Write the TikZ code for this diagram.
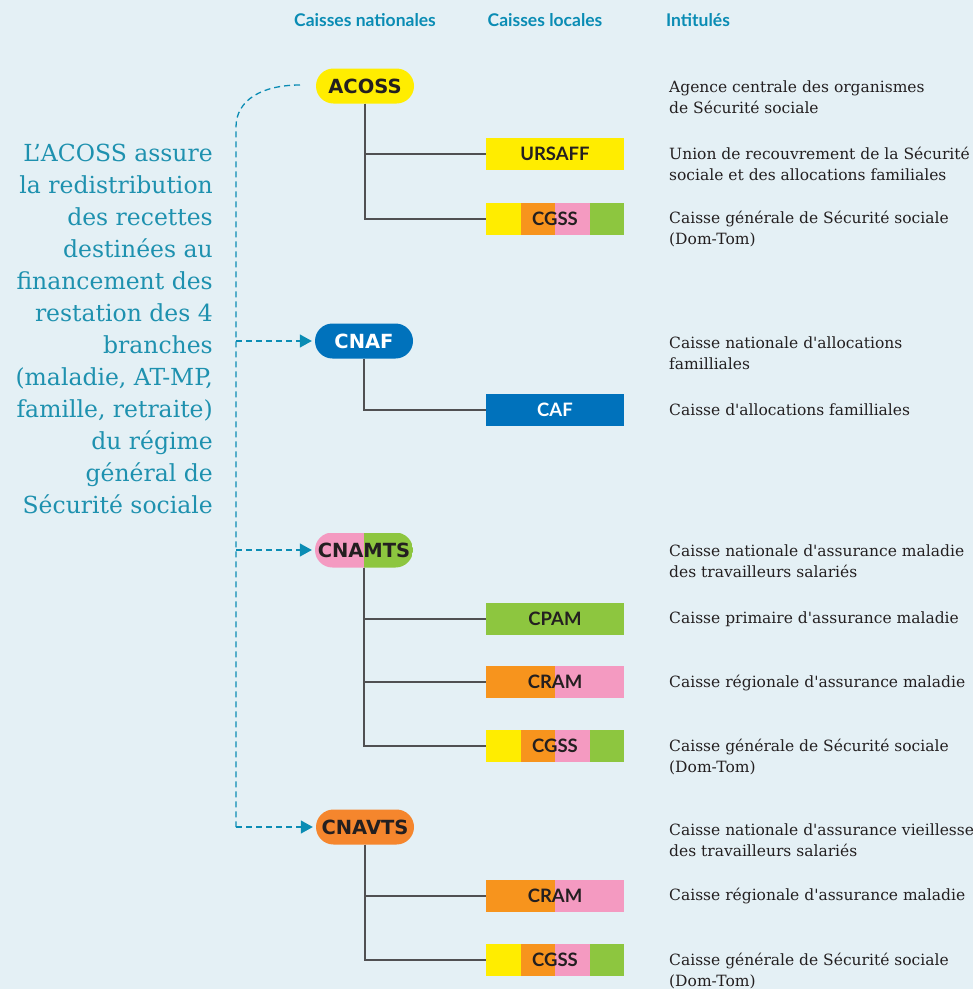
\documentclass[tikz,border=0pt]{standalone}
\usepackage{fontspec}
\setmainfont{DejaVu Serif}
\newfontfamily\descfont{DejaVu Serif}
\newfontfamily\boxfont{Lato}
\newfontfamily\pillfont{DejaVu Sans}
\usetikzlibrary{shapes.misc,arrows.meta}

\definecolor{bgblue}{RGB}{228,240,245}
\definecolor{headteal}{RGB}{10,140,180}
\definecolor{noteteal}{RGB}{30,145,175}
\definecolor{txtdark}{RGB}{35,31,32}
\definecolor{linegray}{RGB}{80,80,82}
\definecolor{cyellow}{RGB}{255,237,0}
\definecolor{corange}{RGB}{247,148,29}
\definecolor{cpink}{RGB}{244,154,193}
\definecolor{cgreen}{RGB}{141,198,63}
\definecolor{cblue}{RGB}{0,114,188}
\definecolor{cnavorange}{RGB}{245,134,45}

% one coloured strip inside a box
\newcommand{\stripe}[3]{\fill[#1] ([xshift=#2]path picture bounding box.south west) rectangle ([xshift=#3]path picture bounding box.north west);}

\begin{document}
\begin{tikzpicture}[x=1pt, y=-1pt,
  pill/.style={rounded rectangle, minimum width=98pt, minimum height=35pt, inner sep=0pt,
    font=\pillfont\bfseries\fontsize{19.5}{19.5}\selectfont, text=txtdark},
  localbox/.style={rectangle, minimum width=138pt, minimum height=32pt, inner sep=0pt,
    font=\boxfont\bfseries\fontsize{18.5}{18.5}\selectfont, text=txtdark},
  cgssbox/.style={localbox, path picture={\stripe{cyellow}{0pt}{34.5pt}\stripe{corange}{34.5pt}{69pt}\stripe{cpink}{69pt}{103.5pt}\stripe{cgreen}{103.5pt}{138pt}}},
  crambox/.style={localbox, path picture={\stripe{corange}{0pt}{69pt}\stripe{cpink}{69pt}{138pt}}},
  desc/.style={anchor=west, align=left, inner sep=0pt, font=\descfont\fontsize{15.5}{21.5}\selectfont, text=txtdark},
  head/.style={font=\boxfont\bfseries\fontsize{17.5}{17.5}\selectfont, text=headteal},
  branch/.style={draw=linegray, line width=1.5pt},
  feed/.style={draw=headteal, line width=1.3pt, dash pattern=on 6pt off 4pt},
  feedarrow/.style={feed, -{Triangle[length=12pt, width=13pt, fill=headteal]}, shorten >=3pt}
]

\useasboundingbox (0,0) rectangle (973,989);
\fill[bgblue] (0,0) rectangle (973,989);

% column heads
\node[head] (hnat) at (365,20) {Caisses nationales};
\node[head] (hloc) at (545,20) {Caisses locales};
\node[head] (hint) at (698,20) {Intitulés};

% note on the left
\node[anchor=east, align=right, inner sep=0pt, text=noteteal, font=\fontsize{23.5}{32}\selectfont] (note) at (213,329)
  {L’ACOSS assure\\la redistribution\\des recettes\\destinées au\\financement des\\restation des 4\\branches\\(maladie, AT-MP,\\famille, retraite)\\du régime\\général de\\Sécurité sociale};

% caisses nationales
\node[pill, fill=cyellow] (acoss) at (365,86) {ACOSS};
\node[pill, fill=cblue, text=white] (cnaf) at (364,341) {CNAF};
\node[pill, path picture={\stripe{cpink}{0pt}{49pt}\stripe{cgreen}{49pt}{98pt}}] (cnamts) at (364,550) {CNAMTS};
\node[pill, fill=cnavorange] (cnavts) at (365,827) {CNAVTS};

% caisses locales
\node[localbox, fill=cyellow] (ursaff) at (555,154) {URSAFF};
\node[cgssbox] (cgssA) at (555,219) {CGSS};
\node[localbox, fill=cblue, text=white] (caf) at (555,410) {CAF};
\node[localbox, fill=cgreen] (cpam) at (555,619) {CPAM};
\node[crambox] (cramM) at (555,682) {CRAM};
\node[cgssbox] (cgssM) at (555,746) {CGSS};
\node[crambox] (cramV) at (555,896) {CRAM};
\node[cgssbox] (cgssV) at (555,960) {CGSS};

% links
\draw[branch] (acoss.south) |- (ursaff.west);
\draw[branch] (acoss.south) |- (cgssA.west);
\draw[branch] (cnaf.south) |- (caf.west);
\draw[branch] (cnamts.south) |- (cpam.west);
\draw[branch] (cnamts.south) |- (cramM.west);
\draw[branch] (cnamts.south) |- (cgssM.west);
\draw[branch] (cnavts.south) |- (cramV.west);
\draw[branch] (cnavts.south) |- (cgssV.west);

% redistribution
\coordinate (fstart) at (300,85);
\coordinate (fbend) at (236,127);
\draw[feed] (fstart) .. controls (262,85) and (236,100) .. (fbend) -- (236,827);
\draw[feedarrow] (236,341) -- (cnaf.west);
\draw[feedarrow] (236,550) -- (cnamts.west);
\draw[feedarrow] (236,827) -- (cnavts.west);

% intitules
\node[desc] (dacoss) at (669,97) {Agence centrale des organismes\\de Sécurité sociale};
\node[desc] (dursaff) at (669,164) {Union de recouvrement de la Sécurité\\sociale et des allocations familiales};
\node[desc] (dcgssA) at (669,229) {Caisse générale de Sécurité sociale\\(Dom-Tom)};
\node[desc] (dcnaf) at (669,353) {Caisse nationale d'allocations\\familliales};
\node[desc] (dcaf) at (669,410) {Caisse d'allocations familliales};
\node[desc] (dcnamts) at (669,561) {Caisse nationale d'assurance maladie\\des travailleurs salariés};
\node[desc] (dcpam) at (669,619) {Caisse primaire d'assurance maladie};
\node[desc] (dcramM) at (669,683) {Caisse régionale d'assurance maladie};
\node[desc] (dcgssM) at (669,757) {Caisse générale de Sécurité sociale\\(Dom-Tom)};
\node[desc] (dcnavts) at (669,840) {Caisse nationale d'assurance vieillesse\\des travailleurs salariés};
\node[desc] (dcramV) at (669,896) {Caisse régionale d'assurance maladie};
\node[desc] (dcgssV) at (669,971) {Caisse générale de Sécurité sociale\\(Dom-Tom)};

\end{tikzpicture}
\end{document}
